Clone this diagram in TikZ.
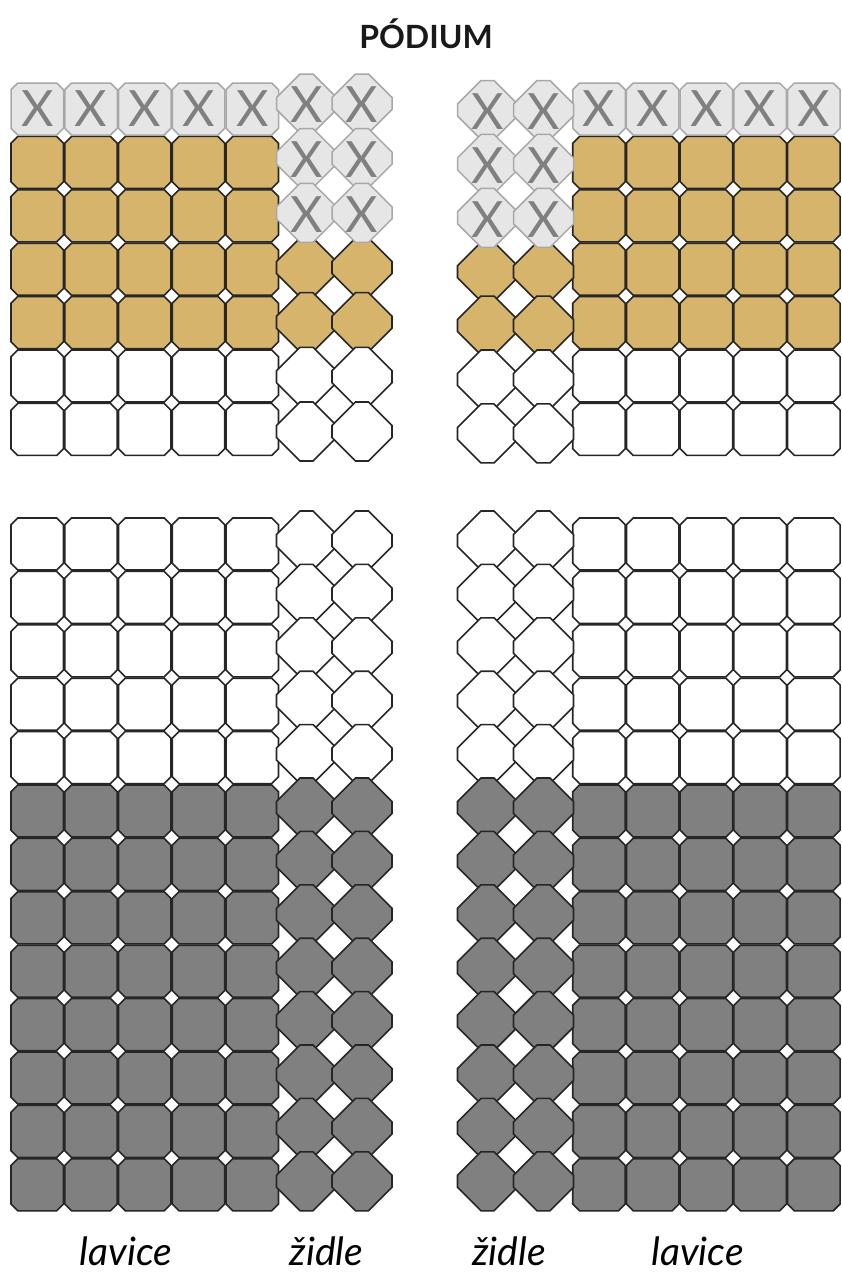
\documentclass[tikz,border=0pt]{standalone}
\usepackage{fontspec}
\setmainfont{Lato}
\definecolor{gold}{RGB}{214,180,108}
\definecolor{xfill}{RGB}{230,230,230}
\definecolor{xline}{RGB}{168,168,168}
\definecolor{xglyph}{RGB}{128,128,128}
\definecolor{dgray}{RGB}{128,128,128}
\newcommand\benchcell[3]{%
  \path[#3] (#1-19.5,#2-26) -- (#1+19.5,#2-26) -- (#1+26.25,#2-19.25) -- (#1+26.25,#2+19.25) -- (#1+19.5,#2+26) -- (#1-19.5,#2+26) -- (#1-26.25,#2+19.25) -- (#1-26.25,#2-19.25) -- cycle;}
\newcommand\chaircell[3]{%
  \path[#3] (#1-6.5,#2-29.5) -- (#1+6.5,#2-29.5) -- (#1+30,#2-6) -- (#1+30,#2+6) -- (#1+6.5,#2+29.5) -- (#1-6.5,#2+29.5) -- (#1-30,#2+6) -- (#1-30,#2-6) -- cycle;}
\tikzset{
  cellX/.style={draw=xline, fill=xfill, line width=1.5pt, line join=miter},
  cellG/.style={draw=black!85, fill=gold, line width=1.6pt, line join=miter},
  cellW/.style={draw=black!85, fill=white, line width=1.6pt, line join=miter},
  cellD/.style={draw=black!85, fill=dgray, line width=1.6pt, line join=miter},
  xmark/.style={inner sep=0pt, text=xglyph, font=\fontsize{50}{50}\selectfont},
  title/.style={font=\bfseries\fontsize{32}{32}\selectfont, text=black!90},
  label/.style={font=\itshape\fontsize{39}{39}\selectfont, anchor=base, inner sep=0pt}
}
\begin{document}
\begin{tikzpicture}[x=1pt,y=-1pt]
\useasboundingbox (0,0) rectangle (842,1272);
\fill[white] (0,0) rectangle (842,1272);
\node[title] (podium) at (426,33.5) {PÓDIUM};
% ---------- top section benches ----------
\foreach \i in {0,...,4} {
  % left
  \foreach \j in {1,...,4} {\benchcell{37.25+53.75*\i}{109+53.4*\j}{cellG}}
  \foreach \j in {5,6} {\benchcell{37.25+53.75*\i}{109+53.4*\j}{cellW}}
  \benchcell{37.25+53.75*\i}{109}{cellX}
  \node[xmark] (xbl\i) at (37.25+53.75*\i,109) {X};
  % right
  \foreach \j in {1,...,4} {\benchcell{599+53.7*\i}{109+53.4*\j}{cellG}}
  \foreach \j in {5,6} {\benchcell{599+53.7*\i}{109+53.4*\j}{cellW}}
  \benchcell{599+53.7*\i}{109}{cellX}
  \node[xmark] (xbr\i) at (599+53.7*\i,109) {X};
}
% ---------- top section chairs ----------
\foreach \j/\s in {3/cellG,4/cellG,5/cellW,6/cellW} {
  \foreach \c in {306.5,362} {\chaircell{\c}{103.5+54.67*\j}{\s}}
  \foreach \c in {487.5,543.5} {\chaircell{\c}{110+53.9*\j}{\s}}
}
\foreach \j in {0,1,2} {
  \foreach \c [count=\k] in {306.5,362} {
    \chaircell{\c}{103.5+54.67*\j}{cellX}
    \node[xmark] (xcl\j\k) at (\c,105+54.67*\j) {X};
  }
  \foreach \c [count=\k] in {487.5,543.5} {
    \chaircell{\c}{110+53.9*\j}{cellX}
    \node[xmark] (xcr\j\k) at (\c,111.5+53.9*\j) {X};
  }
}
% ---------- bottom section ----------
\foreach \j in {0,...,12} {
  \ifnum\j<5 \def\st{cellW}\else\def\st{cellD}\fi
  \foreach \i in {0,...,4} {
    \benchcell{37.25+53.75*\i}{544+53.4*\j}{\st}
    \benchcell{599+53.7*\i}{544+53.4*\j}{\st}
  }
  \foreach \c in {306.5,362,487.5,543.5} {\chaircell{\c}{540.5+53.4*\j}{\st}}
}
% ---------- labels ----------
\node[label] (lav1) at (126,1265) {lavice};
\node[label] (zid1) at (326.5,1265) {židle};
\node[label] (zid2) at (509,1265) {židle};
\node[label] (lav2) at (697.5,1265) {lavice};
\end{tikzpicture}
\end{document}
